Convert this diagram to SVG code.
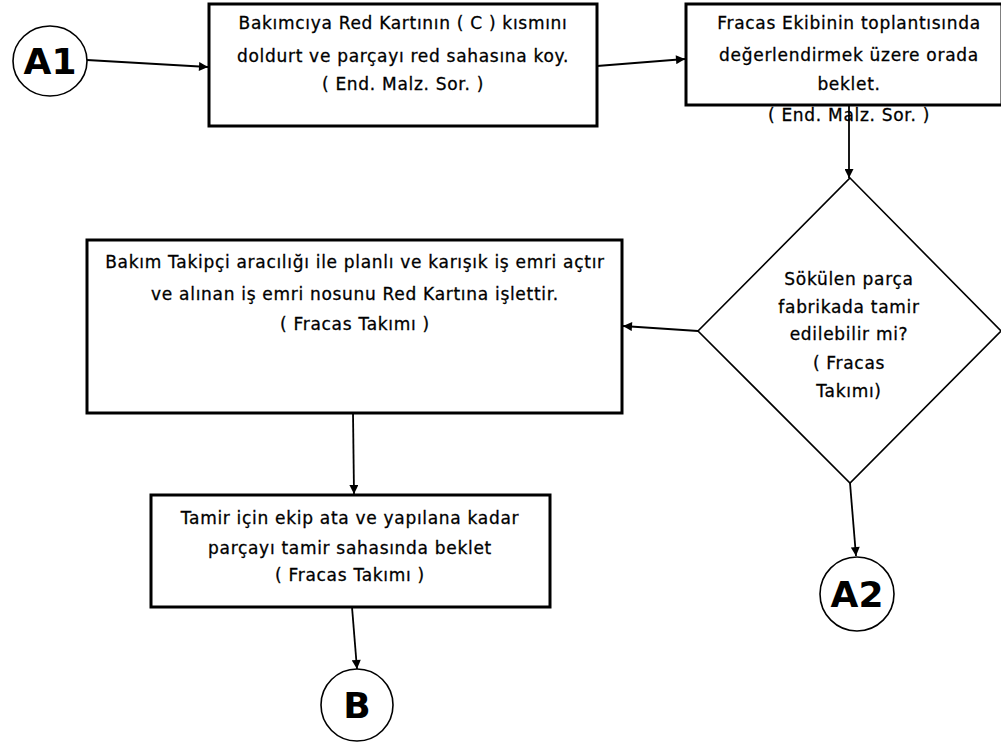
<svg xmlns="http://www.w3.org/2000/svg" width="1001" height="743" viewBox="0 0 1001 743">
  <style>
    .box { fill: #fff; stroke: #000; stroke-width: 3; }
    .shape { fill: #fff; stroke: #000; stroke-width: 1.6; }
    .edge { fill: none; stroke: #000; stroke-width: 1.8; marker-end: url(#arrow); }
    .t { font-family: "DejaVu Sans", "Liberation Sans", sans-serif; font-size: 17px; letter-spacing: 0.7px; fill: #000; stroke: #000; stroke-width: 0.3; text-anchor: middle; }
    .big { font-family: "DejaVu Sans", "Liberation Sans", sans-serif; font-size: 36px; font-weight: bold; fill: #000; text-anchor: middle; }
  </style>
  <defs>
    <marker id="arrow" viewBox="0 0 10 10" refX="10" refY="5" markerWidth="10" markerHeight="9" markerUnits="userSpaceOnUse" orient="auto">
      <path d="M0,0 L10,5 L0,10 z" fill="#000"/>
    </marker>
  </defs>

  <rect width="1001" height="743" fill="#fff"/>

  <!-- connectors -->
  <g id="connectors">
    <path class="edge" d="M87,60 L208,67"/>
    <path class="edge" d="M597,66 L685,59"/>
    <path class="edge" d="M849,106 L849,178"/>
    <path class="edge" d="M698,331 L623,326"/>
    <path class="edge" d="M353,413 L354,494"/>
    <path class="edge" d="M352,607 L357,669"/>
    <path class="edge" d="M850,483 L856,556"/>
  </g>

  <!-- start connector A1 -->
  <g id="a1">
    <ellipse class="shape" cx="50" cy="61" rx="37" ry="35"/>
    <text class="big" x="50" y="74">A1</text>
  </g>

  <!-- step 1 -->
  <g id="step1">
    <rect class="box" x="209" y="4" width="388" height="122"/>
    <text class="t" x="403" y="29">Bakımcıya Red Kartının ( C ) kısmını</text>
    <text class="t" x="403" y="62">doldurt ve parçayı red sahasına koy.</text>
    <text class="t" x="403" y="90">( End. Malz. Sor.  )</text>
  </g>

  <!-- step 2 -->
  <g id="step2">
    <rect class="box" x="686" y="4" width="316" height="101"/>
    <text class="t" x="849" y="29">Fracas Ekibinin toplantısında</text>
    <text class="t" x="849" y="61">değerlendirmek üzere orada</text>
    <text class="t" x="849" y="90">beklet.</text>
    <text class="t" x="849" y="121">( End. Malz. Sor. )</text>
  </g>

  <!-- decision -->
  <g id="decision">
    <polygon class="shape" points="850,178 1001,331 850,483 698,331"/>
    <text class="t" x="849" y="285">Sökülen parça</text>
    <text class="t" x="849" y="313">fabrikada tamir</text>
    <text class="t" x="849" y="340">edilebilir mi?</text>
    <text class="t" x="849" y="369">( Fracas</text>
    <text class="t" x="849" y="397">Takımı)</text>
  </g>

  <!-- step 3 -->
  <g id="step3">
    <rect class="box" x="87" y="240" width="535" height="173"/>
    <text class="t" x="355" y="268">Bakım Takipçi aracılığı ile planlı ve karışık iş emri açtır</text>
    <text class="t" x="355" y="300">ve alınan iş emri nosunu Red Kartına işlettir.</text>
    <text class="t" x="355" y="330">( Fracas Takımı )</text>
  </g>

  <!-- step 4 -->
  <g id="step4">
    <rect class="box" x="151" y="495" width="399" height="112"/>
    <text class="t" x="350" y="524">Tamir için ekip ata ve yapılana kadar</text>
    <text class="t" x="350" y="554">parçayı tamir sahasında beklet</text>
    <text class="t" x="350" y="581">( Fracas Takımı )</text>
  </g>

  <!-- connector A2 -->
  <g id="a2">
    <circle class="shape" cx="857" cy="594" r="37"/>
    <text class="big" x="857" y="607">A2</text>
  </g>

  <!-- connector B -->
  <g id="b">
    <circle class="shape" cx="357" cy="705" r="36"/>
    <text class="big" x="357" y="718">B</text>
  </g>
</svg>
